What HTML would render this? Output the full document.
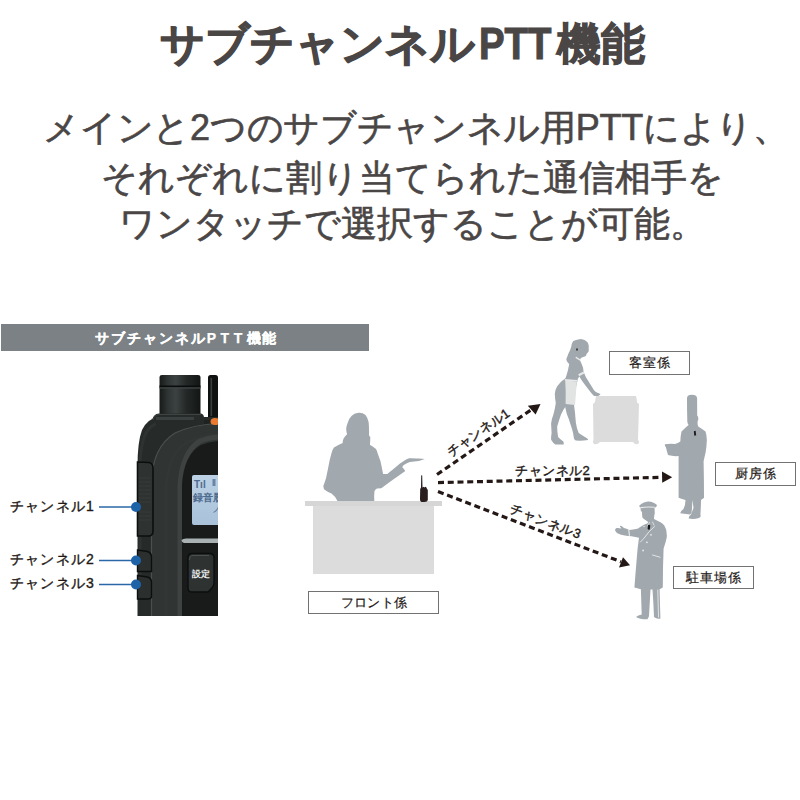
<!DOCTYPE html>
<html lang="ja"><head><meta charset="utf-8">
<style>
html,body{margin:0;padding:0;background:#fff;width:800px;height:800px;overflow:hidden}
body{font-family:"Liberation Sans",sans-serif;position:relative}
.t{position:absolute;white-space:nowrap;line-height:1}
#title{left:2px;width:800px;text-align:center;top:22px;font-size:44px;font-weight:bold;color:#4a4646;-webkit-text-stroke:1.1px #4a4646}
.body{left:12px;width:800px;text-align:center;font-size:36px;color:#4a4646;-webkit-text-stroke:0.65px #4a4646}
#bar{position:absolute;left:1px;top:324px;width:368px;height:27px;background:#7b8185}
#bartxt{left:2px;width:368px;text-align:center;top:331px;font-size:14px;font-weight:bold;color:#fff;letter-spacing:2px;-webkit-text-stroke:0.25px #fff}
.ch{font-size:14px;color:#231815;left:10px;letter-spacing:1.2px;-webkit-text-stroke:0.35px #231815}
.al{font-size:13px;color:#231815;letter-spacing:0.5px;-webkit-text-stroke:0.4px #231815}
.box{position:absolute;border:1.2px solid #727272;box-sizing:border-box;background:#fff;font-size:12.5px;color:#231815;text-align:center;letter-spacing:1px;text-indent:1px;-webkit-text-stroke:0.2px #231815}
svg{position:absolute;left:0;top:0}
</style></head><body>
<div class="t" id="title">サブチャンネル<span style="display:inline-block;width:78px;margin-left:4px;transform:scaleX(0.87);transform-origin:0 0">PTT</span>機能</div>
<div class="t body" style="top:110px;letter-spacing:-0.3px;left:16px">メインと2つのサブチャンネル用PTTにより、</div>
<div class="t body" style="top:159.5px">それぞれに割り当てられた通信相手を</div>
<div class="t body" style="top:206px">ワンタッチで選択することが可能。</div>
<div id="bar"></div>
<div class="t" id="bartxt">サブチャンネル<span style="letter-spacing:4.6px">PTT</span><span style="letter-spacing:1.2px">機能</span></div>

<svg width="800" height="800" viewBox="0 0 800 800">

<defs>
<linearGradient id="ant" x1="0" x2="1" y1="0" y2="0">
<stop offset="0" stop-color="#161a19"/><stop offset="0.2" stop-color="#2e3433"/><stop offset="0.4" stop-color="#3c4241"/><stop offset="0.65" stop-color="#242928"/><stop offset="1" stop-color="#121514"/>
</linearGradient>
<linearGradient id="bodyg" x1="0" x2="1" y1="0" y2="0">
<stop offset="0" stop-color="#1a1d1c"/><stop offset="0.3" stop-color="#2a2e2d"/><stop offset="0.6" stop-color="#202423"/><stop offset="1" stop-color="#161918"/>
</linearGradient>
<linearGradient id="lcd" x1="0" x2="0" y1="0" y2="1">
<stop offset="0" stop-color="#bcd1e4"/><stop offset="1" stop-color="#a9c2da"/>
</linearGradient>
<clipPath id="rclip"><rect x="130" y="370" width="88" height="246"/></clipPath>
</defs>
<g clip-path="url(#rclip)">
 <!-- stub antenna -->
 <rect x="208" y="375" width="10" height="50" rx="2.5" fill="#0f1211"/>
 <rect x="210.5" y="378" width="1.6" height="38" fill="#3a3f3e"/>
 <!-- main antenna -->
 <path d="M159.5 377 Q159.5 375 162 375 L198 375 Q200.5 375 200.5 377 L200.5 420 L159.5 420 Z" fill="url(#ant)"/>
 <rect x="159.5" y="385.5" width="41" height="1.8" fill="#0a0d0c"/>
 <rect x="159.5" y="387.3" width="41" height="1.4" fill="#3d4342"/>
 <!-- body outer -->
 <path d="M137.5 616 L137.5 466 Q137.5 442 142 430 Q147 419 158 417 L218 417 L218 616 Z" fill="#262a29"/>
 <!-- antenna collar -->
 <path d="M152 434 L152.5 420 Q153 414 159 413.5 L201 413.5 Q204 414 204 418 L204 434 Z" fill="#262b2a"/>
 <path d="M153 420 Q154 415 159 414.5 L201 414.5" stroke="#3e4443" stroke-width="1" fill="none"/>
 <rect x="156" y="417" width="38" height="3" fill="#3a403f"/><path d="M204 420 L218 420 L218 426 L204 428 Z" fill="#1e2221"/>
 <!-- side shell highlight -->
 <path d="M140 600 L140 470 Q140 445 146 433 Q150 426 156 424" stroke="#2e3332" stroke-width="3" fill="none"/>
 <!-- front textured panel -->
 <path d="M152 616 L152 482 Q153 447 175 433 Q194 425 218 424 L218 616 Z" fill="#303433"/>
 <path d="M151.5 616 L151.5 482 Q152.5 447 175 433 Q194 424.5 218 423.5" stroke="#4a504f" stroke-width="1.2" fill="none"/>
 <path d="M166 616 L166 488 Q168 455 186 443 Q200 436 218 434" stroke="#323736" stroke-width="3" fill="none"/>
 <!-- textured rim -->
 <path d="M180 616 L180 486 Q182 452 200 441 Q209 437.5 218 437" stroke="#3e4342" stroke-width="5" fill="none"/>
 <!-- display bezel -->
 <path d="M182 616 L182 485 Q183.5 455 201 445 Q209 442 218 441 L218 616 Z" fill="#181b1a"/>
 <!-- lcd -->
 <rect x="192" y="475" width="28" height="50" rx="2" fill="url(#lcd)"/>
 <text x="194" y="487.5" font-size="10" fill="#4d6b8f" font-family="Liberation Sans" font-weight="bold">Tıl</text>
 <rect x="212.5" y="479" width="3" height="7" fill="#6a85a5"/>
 <text x="193" y="501" font-size="10" fill="#4d6b8f" font-family="Liberation Sans" font-weight="bold">録音履</text>
 <text x="212" y="512" font-size="9" fill="#4d6b8f" font-family="Liberation Sans">ノ</text>
 <!-- silver line -->
 <path d="M181.5 540 Q183 538.5 186 538.5 L218 538.5 L218 543 L184 543 Q181.5 542.5 181.5 540 Z" fill="#a9b1b2"/>
 <!-- 設定 button -->
 <path d="M188 558 Q188 553.5 192.5 553.5 L209.5 553.5 Q214 553.5 214 558 L214 583 Q214 586 211 589 L208 592 L192 592 Q188 592 188 588 Z" fill="#2e3231" stroke="#0c0e0e" stroke-width="1.3"/>
 <path d="M189.5 560 Q189.5 555.5 193 555.5 L209 555.5" stroke="#4b5150" stroke-width="1" fill="none"/>
 <text x="201" y="576.5" font-size="9" font-weight="bold" fill="#eceeee" text-anchor="middle" font-family="Liberation Sans">設定</text>
 <!-- side keys -->
 <path d="M137.5 462 L149 462.5 Q153 463.5 153 468 L153 531 Q153 536 148.5 536 L137.5 536 Z" fill="#2e3231" stroke="#0d0f0f" stroke-width="1.6"/>
 <g stroke="#3a3f3e" stroke-width="0.8">
  <line x1="139" y1="478" x2="151" y2="478"/><line x1="139" y1="482" x2="151" y2="482"/><line x1="139" y1="486" x2="151" y2="486"/><line x1="139" y1="490" x2="151" y2="490"/><line x1="139" y1="494" x2="151" y2="494"/><line x1="139" y1="498" x2="151" y2="498"/><line x1="139" y1="502" x2="151" y2="502"/><line x1="139" y1="512" x2="151" y2="512"/><line x1="139" y1="516" x2="151" y2="516"/><line x1="139" y1="520" x2="151" y2="520"/>
 </g>
 <path d="M137.5 550 L147.5 551.5 Q151.5 553 151.5 557 L151.5 571.5 L137.5 571.5 Z" fill="#2b2f2e" stroke="#0d0f0f" stroke-width="1.4"/>
 <path d="M137.5 575.5 L147.5 577 Q151.5 578.5 151.5 582 L151.5 597 Q151 599 147 599 L137.5 599 Z" fill="#2b2f2e" stroke="#0d0f0f" stroke-width="1.4"/>
 <!-- orange knob -->
 <ellipse cx="215" cy="421.5" rx="4.5" ry="3.6" fill="#ea7a30"/>
</g>
<!-- desk -->
<rect x="313" y="505" width="121" height="69" fill="#dcdcdc"/>
<rect x="305" y="501" width="137" height="5" fill="#d6d6d6"/>
<!-- front desk woman -->
<path fill="#a1a8ae" d="M358.5 412.8 Q354 413.2 351.5 415.9 Q349 418.5 348 422 Q346.5 425.5 346.2 429 Q346.3 432 347.1 434.2 Q345 436 343.6 438.6 Q342.5 441 342.7 443 Q338 445 334 447.4 Q332 450 331.4 453.5 Q330.5 457 329.6 460.5 Q328 469 326.1 478 Q324.5 483 323.3 486 Q323.5 489 325 490 Q328 492 331.5 493.5 Q335 496 337.5 501 L374.3 501 Q374 495 374.5 491 Q375.5 489 377 488.5 L381.3 488.3 Q387 484 392.5 480 Q399 475.5 405.3 471 Q404 469 402.3 467.3 Q403 465.5 403.8 465 Q407 463 409.8 462 Q414 461.3 418.8 460.9 Q422 460 424.8 459 Q421 458.3 416.5 458.6 Q412.5 458 409 458.3 Q406 459.5 403.8 460.9 Q402 462 400 463.5 Q393.5 469 387.3 474 L383.1 474 Q381.8 467.5 380.5 461.3 Q379 457 377.7 453.5 Q377 451 376 449.1 Q373 446.5 369.9 444.7 Q370.3 441 370.3 436.9 Q369 436 369 435.1 Q369.2 432 369 429.9 Q369 425.5 368.6 422 Q367.5 417.5 365.5 415 Q362.5 412.5 358.5 412.8 Z"/>
<!-- tiny radio -->
<path fill="#2a1e1e" d="M421.2 475.5 Q421.7 475 422.2 475.5 L422.5 487.5 L423.5 486.8 L424.3 487.5 L425.3 486.8 Q426.5 487 426.8 488.5 L427.8 490 L427.8 500 Q427.5 502 424.5 502 L421.5 502 Q419.8 501.5 420 499 L420.2 489 L421 487.5 Z"/>
<!-- maid cart -->
<path fill="#dcdcdc" d="M596 396 L636 396 Q637 400 637 402.5 L639 404 L638 440 Q640 442 638 444 Q635 445 633 442 L600 442 Q597 445 594 444 Q592 442 593.5 440 L593 404 L595 402 Z"/>
<!-- maid -->
<path fill="#a1a8ae" d="M581 339.1 Q578 339.3 575.3 340.3 Q573 341 572.5 342.3 Q571.5 344 571.3 346.4 Q570.5 349 569.6 351.3 Q568 354 567.2 357 Q566.2 358.5 566.4 359.4 Q566.7 361 567.2 361.8 Q568.5 363 569.2 364.3 Q568.6 367 568 370 Q567 374 565.6 378.1 L564.7 378.7 Q560 382 557.2 386.2 Q555 390 554.8 393.7 Q555 399 555.8 403.1 Q555 409 553.4 414.4 Q551.5 419 551.1 423.7 Q551.3 428 551.6 433.1 Q551 437 551.1 439.7 Q553 443 555.3 444.4 L563.7 444.4 Q564 442.5 563.3 441.5 Q560 439 558.1 436.9 Q557 431 557.2 426.5 Q559 420 561 414.4 Q563 410 565.2 406.9 Q566 411 567 414.4 Q569 419 570.3 423.7 Q572 428.5 573.1 433.1 Q573.5 436 574 438.7 Q575 440 575.9 440.6 Q582 441 588.1 440.1 Q588 438.5 586.2 437.8 Q582 435.5 578.7 433.1 Q576.5 428 575.9 422.8 Q575.3 417 575 412.5 Q574.3 408 574.1 405 L575.9 388.1 Q577 383 577.8 378.7 L579.4 376.5 Q580.5 378.5 581.8 380.5 Q585 385 589.1 390.3 Q591 393 594 396 L598.1 396 Q599.5 395.5 600.5 394.3 Q599 393 597.3 392.7 Q595.5 392 594 390.3 Q592 387 590 383.8 Q588 380.5 585.9 377.3 Q584.5 374 583.5 371.6 Q583.3 369 583 367.5 Q582 365 581 362.6 Q580 360.5 579.8 359.4 Q581 358 581.8 357.4 Q584 356.8 585.9 356.1 Q586.3 354.5 586.7 353.7 Q588 352.5 588.7 351.3 Q588.8 348 588.7 345.6 Q588.3 343.5 587.5 342.3 Q585 339.3 581 339.1 Z"/>
<path fill="#e2e3e3" d="M565.2 380.6 Q571 381.2 576.9 381.6 Q576 393 575 405 Q570 404.8 565.6 404.1 Q566 392 565.2 380.6 Z"/>
<path fill="#e8e9ea" d="M578.2 374.3 L583.5 371.4 L584.2 373.5 L579.2 376.3 Z"/>
<path fill="#e8e9ea" d="M576 356.5 L580.5 359.5 L580 360.8 L575.5 358 Z"/>
<path fill="#e8e9ea" d="M564.5 379 L577 380 L577 381.6 L565 380.8 Z"/>
<ellipse cx="577" cy="349.5" rx="0.8" ry="1.3" fill="#2a2a2a"/>
<!-- chef -->
<path fill="#a1a8ae" d="M687 398 Q687.5 394.6 692 394.8 Q696.5 394.8 697.1 398 L697.2 415.5 Q698.5 416.5 698.3 419.5 L697.6 421.5 Q697.3 424 698.2 426.5 Q701.5 428.5 705.5 431.6 Q707 436 706.8 441 Q706.5 448 705.6 452.4 Q704.5 457 703.6 461.3 Q704 480 704 498 Q702 499 701 500 Q701 506 700.4 514.4 Q701.5 516.5 699 518 Q694 519.5 688.7 518.6 Q688.5 516.5 691 514.5 L693.5 508 L692.5 500 L691.9 509.5 Q692 513.5 690 514.4 L680.2 513.3 Q680.5 511 683.5 509 Q685.5 505 685.5 500 Q682 499 678.6 497.8 Q678.6 476 678.6 456 Q673 456.5 668 455 Q666.5 450 666 447.5 Q664.8 446 664.8 444.3 Q670 443.5 675 444 Q678 443 680.3 441.5 Q680.5 436 681.5 431.6 Q685 428 688.6 425.1 Q687.3 423 687.3 421.2 Q687 410 687 398 Z"/>
<path d="M693.8 431.2 L695.6 430.8 L696.2 435.2 L694.3 435.8 Z" fill="#1a1a1a"/>
<!-- valet -->
<path fill="#a1a8ae" d="M648 501.4 Q643 501.8 639.4 505.5 Q639 507 640.5 507.8 L640.9 511.5 L642 511.5 Q642 515 642.4 517.5 Q643.5 519 645 519.8 L648.2 522 L647.3 523.5 Q645 524 643.5 525 Q640 527 637.5 528.8 Q633 529.5 629.3 529.9 Q626.5 528.5 624 528 Q622.5 526.5 621 525.8 Q619.9 525.5 619.9 526.5 L621.5 528.5 Q618.5 527.8 616.5 528 Q615 528.8 615 530.3 Q616 532.5 617.3 533.3 Q621 535 624.8 535.5 Q628 536 631.5 536.3 Q635.5 537.2 639 537.8 Q637.5 548 636.8 558 Q635.5 573 634.4 587.6 L640.9 589.2 Q641.3 602 641.7 614.5 Q638 615.5 636 616.9 Q640 619.5 647.4 619.3 Q648.5 618 649 616 L650.5 589.5 L652.5 589.5 Q653.5 603 654 617 Q656.5 619.2 660.4 618.5 Q660 604 659.6 589.2 L662.8 587.6 Q662.8 568 663.6 548.6 Q665.5 543 666.8 537.2 Q667.2 530 664.5 525.8 Q662.5 523.2 660 522 Q657 520.5 654 519 Q654 516 654.8 513 L654.5 508 Q657 507 657 505.1 Q653 501.2 648 501.4 Z"/>
<g stroke="#e9ebec" fill="none" stroke-linecap="round">
<path d="M640.8 507.6 Q647 506.5 654.5 507.3" stroke-width="1.1"/>
<path d="M654.5 526.5 Q648 532 645 537 Q642.5 540 640.5 542" stroke-width="0.9"/>
<path d="M628.8 530.3 L629.4 535.3" stroke-width="1.2"/>
<path d="M649.5 522.5 L647.6 525.8" stroke-width="0.8"/>
<path d="M652.5 522 L654 525" stroke-width="0.8"/>
<path d="M652.5 555 L660 557.2" stroke-width="0.9"/>
<path d="M657.8 590 L658.5 617" stroke-width="0.9"/>
</g>
<g fill="#e9ebec"><circle cx="651" cy="534.8" r="0.9"/><circle cx="646.9" cy="542.3" r="0.9"/><circle cx="643.1" cy="550.5" r="0.9"/><circle cx="644" cy="526.5" r="0.7"/></g>
<path d="M648 525 Q649.5 524.5 650.3 525.5 L649.8 529.5 Q648.5 530 647.6 529 Z" fill="#1a1a1a"/>
<!-- arrows -->
<g stroke="#231815" stroke-width="3.2" stroke-dasharray="6 3.75" fill="none">
<line x1="437" y1="474.5" x2="532" y2="409.2"/>
<line x1="438" y1="482.6" x2="662" y2="477.3"/>
<line x1="438" y1="491.6" x2="621" y2="561.8"/>
</g>
<g fill="#231815">
<path d="M540.5 404 L527.8 405.8 L535.6 414.6 Z"/>
<path d="M672.2 477.2 L662 471.6 L662.2 482.8 Z"/>
<path d="M630 565.3 L623 557.3 L619 567.5 Z"/>
</g>

<!-- blue callouts -->
<g stroke="#2a67a6" stroke-width="1.3">
 <line x1="99" y1="507" x2="136" y2="507"/>
 <line x1="99" y1="560.5" x2="136" y2="560.5"/>
 <line x1="99" y1="584.5" x2="136" y2="584.5"/>
</g>
<g fill="#1e62a8">
 <circle cx="136" cy="507" r="5"/>
 <circle cx="136" cy="560.5" r="5"/>
 <circle cx="136" cy="584.5" r="5"/>
</g>
</svg>


<div class="t al" style="left:515px;top:463.5px">チャンネル2</div>
<div class="t al" style="left:450.5px;top:446px;transform-origin:0 11px;transform:rotate(-35deg);letter-spacing:0.1px">チャンネル1</div>
<div class="t al" style="left:509px;top:501px;transform-origin:0 11px;transform:rotate(21deg)">チャンネル3</div>
<div class="t ch" style="top:499px">チャンネル1</div>
<div class="t ch" style="top:552px">チャンネル2</div>
<div class="t ch" style="top:576px">チャンネル3</div>

<div class="box" style="left:308px;top:590.5px;width:131px;height:23.5px;line-height:23px;letter-spacing:0.4px">フロント係</div>
<div class="box" style="left:609px;top:351px;width:81px;height:23.5px;line-height:23px">客室係</div>
<div class="box" style="left:715px;top:462px;width:81px;height:23.5px;line-height:23px">厨房係</div>
<div class="box" style="left:672.5px;top:565.5px;width:81px;height:23.5px;line-height:23px">駐車場係</div>
</body></html>
